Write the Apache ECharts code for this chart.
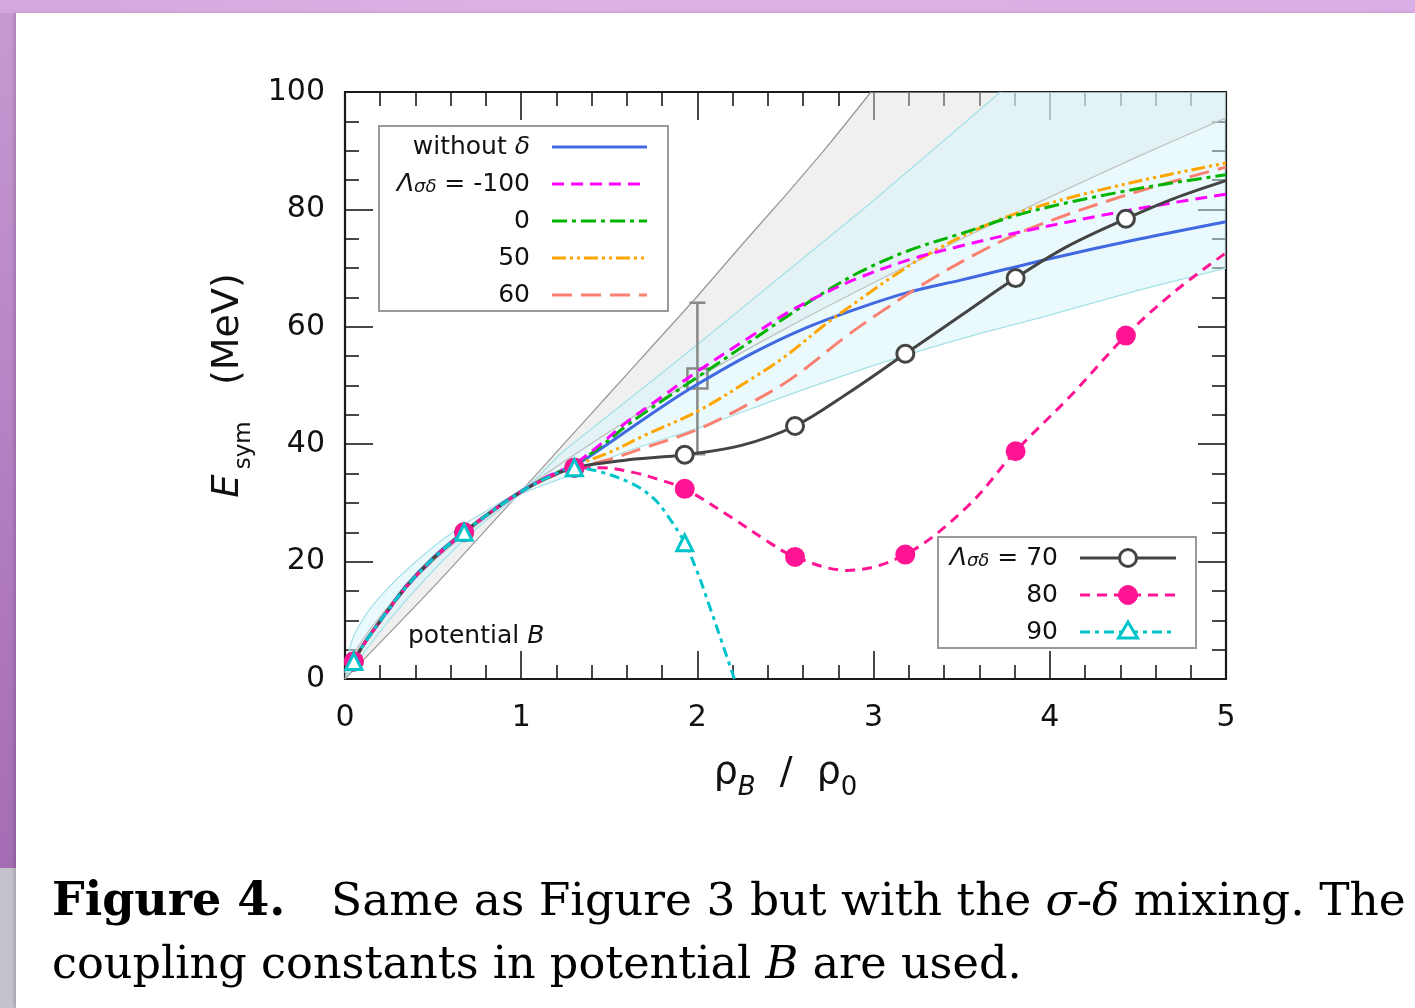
<!DOCTYPE html>
<html><head><meta charset="utf-8">
<script src="https://cdn.jsdelivr.net/npm/echarts@6/dist/echarts.min.js"></script>
<style>
html,body{margin:0;padding:0;background:#fff;}
#wrap{position:relative;width:1415px;height:1008px;overflow:hidden;}
.bg{position:absolute;}
#c{position:absolute;left:0;top:0;width:1415px;height:1008px;}
</style>
</head><body>
<div id="wrap">
  <div class="bg" style="left:0;top:0;width:1415px;height:13px;background:linear-gradient(to right,#d6a6de,#dcb2e6 40%,#d8aee4);"></div>
  <div class="bg" style="left:0;top:13px;width:16px;height:855px;background:linear-gradient(#c79ad2,#b27cc0 60%,#a56db3);"></div>
  <div class="bg" style="left:0;top:868px;width:16px;height:140px;background:#c4c2ca;"></div>
  <div class="bg" style="left:16px;top:13px;width:1399px;height:995px;background:#fff;box-shadow:-2px 0 3px rgba(0,0,0,0.15);"></div>
  <div id="c"></div>
</div>
<script>
// ---------------- data ----------------
const xTicks = [0, 1, 2, 3, 4, 5];
const yTicks = [0, 20, 40, 60, 80, 100];
const markerX = [0.05, 0.676, 1.302, 1.928, 2.554, 3.18, 3.806, 4.432];

const withoutDelta = [[0.05,3.0],[0.1,5.7],[0.2,10.0],[0.35,16.0],[0.5,20.7],[0.676,25.1],[0.85,29.0],[1.0,32.0],[1.15,34.4],[1.3,36.3],[1.45,39.2],[1.6,42.3],[1.8,46.4],[2.0,50.2],[2.3,55.3],[2.6,59.6],[2.9,63.0],[3.2,65.9],[3.5,68.0],[4.0,71.6],[4.5,74.9],[5.0,77.9]];
const lamM100 = [[0.05,3.0],[0.1,5.6],[0.2,9.8],[0.35,15.7],[0.5,20.4],[0.676,24.9],[0.85,28.9],[1.0,31.9],[1.15,34.5],[1.3,36.6],[1.45,40.0],[1.6,43.8],[1.8,48.1],[2.0,52.4],[2.3,58.3],[2.5,62.2],[2.7,65.4],[2.92,68.4],[3.2,71.4],[3.5,73.8],[3.87,76.4],[4.44,79.8],[5.0,82.6]];
const lam0 = [[0.05,3.0],[0.1,5.6],[0.2,9.9],[0.35,15.8],[0.5,20.5],[0.676,25.0],[0.85,28.9],[1.0,31.9],[1.15,34.5],[1.3,36.5],[1.45,39.6],[1.6,43.2],[1.8,47.4],[2.0,51.4],[2.3,57.5],[2.5,61.6],[2.7,65.5],[2.92,69.3],[3.2,73.0],[3.5,75.9],[3.87,79.5],[4.44,83.2],[5.0,85.9]];
const lam50 = [[0.05,3.0],[0.1,5.6],[0.2,9.9],[0.35,15.8],[0.5,20.5],[0.676,25.0],[0.85,28.9],[1.0,31.9],[1.15,34.3],[1.3,36.3],[1.5,38.6],[1.7,41.5],[2.0,45.6],[2.3,51.0],[2.5,55.0],[2.73,60.5],[2.92,64.6],[3.1,68.4],[3.3,72.2],[3.6,76.8],[3.9,80.2],[4.44,84.4],[5.0,87.9]];
const lam60 = [[0.05,3.0],[0.1,5.6],[0.2,9.9],[0.35,15.8],[0.5,20.5],[0.676,25.0],[0.85,28.9],[1.0,31.9],[1.15,34.2],[1.3,35.9],[1.5,37.4],[1.7,39.4],[2.0,42.5],[2.3,47.0],[2.54,51.3],[2.85,58.5],[3.04,62.5],[3.3,67.6],[3.6,72.7],[3.9,76.9],[4.44,82.5],[5.0,87.2]];
const lam70 = [[0.05,3.0],[0.1,5.6],[0.2,9.9],[0.35,15.8],[0.5,20.5],[0.676,25.0],[0.85,28.9],[1.0,31.9],[1.15,34.3],[1.302,36.0],[1.6,37.3],[1.928,38.2],[2.25,39.8],[2.554,43.1],[2.85,48.6],[3.18,55.4],[3.5,62.0],[3.806,68.3],[4.1,73.7],[4.432,78.4],[4.7,81.8],[5.0,84.9]];
const lam80 = [[0.05,3.0],[0.1,5.6],[0.2,9.9],[0.35,15.8],[0.5,20.5],[0.676,25.0],[0.85,28.9],[1.0,31.9],[1.15,34.3],[1.302,36.0],[1.45,36.0],[1.635,35.2],[1.79,33.9],[1.928,32.4],[2.2,27.4],[2.39,23.6],[2.554,20.8],[2.85,18.5],[3.18,21.2],[3.53,29.3],[3.806,38.8],[4.12,48.3],[4.432,58.5],[4.7,65.8],[5.0,72.6]];
const lam90 = [[0.05,3.0],[0.1,5.6],[0.2,9.9],[0.35,15.8],[0.5,20.5],[0.676,25.0],[0.85,28.9],[1.0,31.9],[1.15,34.3],[1.302,36.0],[1.447,35.3],[1.635,33.2],[1.75,30.8],[1.827,28.0],[1.928,23.2],[2.0,18.2],[2.07,12.3],[2.14,6.2],[2.21,0.0]];

// constraint bands (edges)
const grayBandEdgeA = [[0,0],[0.5,15.6],[1,32],[1.25,40.3],[1.5,48.6],[1.75,56.9],[2,65.2],[2.25,73.9],[2.5,82.4],[2.75,91.2],[2.985,100]];
const grayBandEdgeB = [[0,0],[0.05,4.2],[0.15,8.8],[0.3,14.1],[0.5,20],[0.7,25.1],[1,32],[1.5,42.1],[2,51.3],[2.5,59.7],[3,67.5],[3.5,75],[4,82.1],[4.5,89],[5,95.6]];
const cyanBandUpper = [[0,1],[0.02,4.5],[0.06,8],[0.15,12.3],[0.3,17.2],[0.5,22.5],[0.7,26.8],[0.9,30.4],[1,32.2],[1.1,34.6],[1.22,38.3],[1.5,45],[2,57],[2.45,68],[3,81.5],[3.72,100]];
const cyanBandLower = [[0,0.5],[0.05,1.8],[0.12,5],[0.25,10],[0.4,15.2],[0.6,21.5],[0.8,27],[1,31.5],[1.15,33.3],[1.3,35],[1.6,38.8],[2.03,43],[2.5,48.2],[3.04,53.8],[3.5,58],[4,62],[4.5,66.2],[5,70]];
const cornerTopRight = [[5,100]];

// data point with error bar
const errX = [2.0];
const errY = [51.2];
const errLow = [38.3];
const errHigh = [64.1];

// ---------------- chart ----------------
const chart = echarts.init(document.getElementById('c'), null, {renderer:'canvas'});
const FONT = 'DejaVu Sans';
const axisLine = {show:true, onZero:false, lineStyle:{color:'#1a1a1a', width:2.2}};
const tickLS = {color:'#1a1a1a', width:1.6};

function withMarkers(arr){
  return arr.map(p => markerX.indexOf(p[0]) >= 0 ? {value:p} : {value:p, symbol:'none', symbolSize:0});
}
function polygonSeries(upper, lower, fill){
  const poly = upper.concat(cornerTopRight, lower.slice().reverse());
  return {
    type:'custom', silent:true, z:1,
    renderItem:function(params, api){
      return {type:'polygon', shape:{points:poly.map(p => api.coord(p))}, style:{fill:fill, stroke:null}};
    },
    data:[[0,0]]
  };
}
function edge(arr, color, w){
  return {type:'line', data:arr, showSymbol:false, silent:true, z:1, smooth:0.2, lineStyle:{color:color, width:w}, emphasis:{disabled:true}};
}
function curve(arr, color, dash, w){
  return {type:'line', data:arr, showSymbol:false, smooth:0.35, silent:true, z:3,
    lineStyle:{color:color, width:w||3, type:dash||'solid'}, emphasis:{disabled:true}};
}
function markCurve(arr, color, dash, symbol, fill, size){
  return {type:'line', data:withMarkers(arr), showSymbol:true, showAllSymbol:true, smooth:0.35, silent:true, z:4,
    symbol:symbol, symbolSize:size, clip:true,
    lineStyle:{color:color, width:3, type:dash},
    itemStyle:{color:fill, borderColor:color, borderWidth:3},
    emphasis:{disabled:true}};
}

const xRich = {
  r:{fontSize:38, fontFamily:FONT, color:'#111', lineHeight:56},
  bi:{fontSize:26, fontFamily:FONT, fontStyle:'italic', color:'#111', lineHeight:40, verticalAlign:'bottom'},
  s:{fontSize:26, fontFamily:FONT, color:'#111', lineHeight:40, verticalAlign:'bottom'}
};
const yRich = {
  e:{fontSize:37, fontFamily:FONT, fontStyle:'italic', color:'#111', lineHeight:56},
  s:{fontSize:23, fontFamily:FONT, color:'#111', lineHeight:36, verticalAlign:'bottom', padding:[0,0,0,5]},
  r:{fontSize:38, fontFamily:FONT, color:'#111', lineHeight:56}
};

const option = {
  animation:false,
  backgroundColor:'transparent',
  grid:{left:345, right:189, top:92, bottom:329, containLabel:false, outerBoundsMode:'none'},
  xAxis:[
    {type:'value', position:'bottom', min:xTicks[0], max:xTicks[xTicks.length-1], interval:1,
     axisLine:axisLine, axisTick:{show:true, inside:true, length:28, lineStyle:tickLS},
     minorTick:{show:true, splitNumber:5, length:14, lineStyle:tickLS},
     splitLine:{show:false}, minorSplitLine:{show:false},
     axisLabel:{show:true, fontSize:30, fontFamily:FONT, color:'#111', margin:24, lineHeight:30},
     name:'{r|ρ}{bi|B}{r|  /  ρ}{s|0}', nameLocation:'middle', nameGap:66,
     nameTextStyle:{rich:xRich, fontSize:38, fontFamily:FONT, color:'#111'}},
    {type:'value', position:'top', min:xTicks[0], max:xTicks[xTicks.length-1], interval:1,
     axisLine:axisLine, axisTick:{show:true, inside:true, length:28, lineStyle:tickLS},
     minorTick:{show:true, splitNumber:5, length:14, lineStyle:tickLS},
     splitLine:{show:false}, axisLabel:{show:false}}
  ],
  yAxis:[
    {type:'value', position:'left', min:yTicks[0], max:yTicks[yTicks.length-1], interval:20,
     axisLine:axisLine, axisTick:{show:true, inside:true, length:28, lineStyle:tickLS},
     minorTick:{show:true, splitNumber:4, length:14, lineStyle:tickLS},
     splitLine:{show:false}, minorSplitLine:{show:false},
     axisLabel:{show:true, fontSize:30, fontFamily:FONT, color:'#111', margin:20},
     name:'{e|E}{s|sym}{r|   (MeV)}', nameLocation:'middle', nameGap:89, nameRotate:90,
     nameTextStyle:{rich:yRich, fontSize:38, fontFamily:FONT, color:'#111'}},
    {type:'value', position:'right', min:yTicks[0], max:yTicks[yTicks.length-1], interval:20,
     axisLine:axisLine, axisTick:{show:true, inside:true, length:28, lineStyle:tickLS},
     minorTick:{show:true, splitNumber:4, length:14, lineStyle:tickLS},
     splitLine:{show:false}, axisLabel:{show:false}}
  ],
  series:[
    polygonSeries(grayBandEdgeA, grayBandEdgeB, 'rgba(222,222,222,0.45)'),
    polygonSeries(cyanBandUpper, cyanBandLower, 'rgba(214,244,248,0.5)'),
    edge(grayBandEdgeA, '#9a9a9a', 1.3),
    edge(grayBandEdgeB, '#c2c2c2', 1.3),
    edge(cyanBandUpper, '#a6e2e8', 1.3),
    edge(cyanBandLower, '#a6e2e8', 1.3),
    {type:'custom', silent:true, z:2,
     data: errX.map((x,i) => [x, errY[i], errLow[i], errHigh[i]]),
     renderItem:function(params, api){
       const c = api.coord([api.value(0), api.value(1)]);
       const lo = api.coord([api.value(0), api.value(2)]);
       const hi = api.coord([api.value(0), api.value(3)]);
       const st = {stroke:'#888', lineWidth:2.5, fill:null};
       return {type:'group', children:[
         {type:'line', shape:{x1:lo[0], y1:lo[1], x2:hi[0], y2:hi[1]}, style:st},
         {type:'line', shape:{x1:lo[0]-8, y1:lo[1], x2:lo[0]+8, y2:lo[1]}, style:st},
         {type:'line', shape:{x1:hi[0]-8, y1:hi[1], x2:hi[0]+8, y2:hi[1]}, style:st},
         {type:'rect', shape:{x:c[0]-10, y:c[1]-10, width:20, height:20}, style:{stroke:'#888', lineWidth:2.5, fill:'transparent'}}
       ]};
     }},
    curve(withoutDelta, '#4169e1', 'solid'),
    curve(lam60, '#fa8072', [20,9]),
    curve(lam50, '#ffa500', [14,4,3,4,3,4]),
    curve(lam0, '#00b400', [15,5,4,5]),
    curve(lamM100, '#ff00ff', [12,7]),
    markCurve(lam70, '#444444', 'solid', 'circle', '#ffffff', 17),
    markCurve(lam80, '#ff1493', [10,7], 'circle', '#ff1493', 17),
    markCurve(lam90, '#00c4cc', [10,5,4,5], 'triangle', '#ffffff', 16)
  ],
  graphic:[]
};

// ---------- legends / annotations (graphic) ----------
const LF = '25px "DejaVu Sans"';
const legRich = {
  n:{fontSize:25, fontFamily:FONT, color:'#111'},
  i:{fontSize:25, fontFamily:FONT, fontStyle:'italic', color:'#111'},
  sub:{fontSize:18, fontFamily:FONT, fontStyle:'italic', color:'#111', lineHeight:14, verticalAlign:'bottom'}
};
function txt(x, y, text, align){
  return {type:'text', z:100, x:x, y:y, style:{text:text, align:align||'right', verticalAlign:'middle', font:LF, fill:'#111', rich:legRich}};
}
function sample(x1, x2, y, color, dash){
  return {type:'line', z:100, shape:{x1:x1, y1:y, x2:x2, y2:y}, style:{stroke:color, lineWidth:3, lineDash:dash||null}};
}
const G = [];
// legend 1
G.push({type:'rect', z:99, shape:{x:379, y:126, width:289, height:185}, style:{fill:'#fff', stroke:'#9a9a9a', lineWidth:2}});
const leg1 = [
  ['{n|without }{i|δ}', '#4169e1', null],
  ['{i|Λ}{sub|σδ}{n| = -100}', '#ff00ff', [12,7]],
  ['{n|0}', '#00b400', [15,5,4,5]],
  ['{n|50}', '#ffa500', [14,4,3,4,3,4]],
  ['{n|60}', '#fa8072', [20,9]]
];
const leg1Y = [147, 184, 221, 258, 295];
leg1.forEach((r, k) => { G.push(txt(530, leg1Y[k], r[0])); G.push(sample(552, 647, leg1Y[k], r[1], r[2])); });
// legend 2
G.push({type:'rect', z:99, shape:{x:938, y:537, width:258, height:111}, style:{fill:'#fff', stroke:'#9a9a9a', lineWidth:2}});
G.push(txt(1058, 558, '{i|Λ}{sub|σδ}{n| = 70}'));
G.push(sample(1080, 1176, 558, '#444444', null));
G.push({type:'circle', z:101, shape:{cx:1128, cy:558, r:8.5}, style:{fill:'#fff', stroke:'#444444', lineWidth:3}});
G.push(txt(1058, 595, '{n|80}'));
G.push(sample(1080, 1176, 595, '#ff1493', [10,7]));
G.push({type:'circle', z:101, shape:{cx:1128, cy:595, r:9.5}, style:{fill:'#ff1493', stroke:'#ff1493', lineWidth:1}});
G.push(txt(1058, 632, '{n|90}'));
G.push(sample(1080, 1176, 632, '#00c4cc', [10,5,4,5]));
G.push({type:'polygon', z:101, shape:{points:[[1128,622],[1137.5,638],[1118.5,638]]}, style:{fill:'#fff', stroke:'#00c4cc', lineWidth:3}});
// annotation
G.push(txt(408, 636, '{n|potential }{i|B}', 'left'));
// caption
const capRich = {
  b:{fontSize:46, fontFamily:'DejaVu Serif', fontWeight:'bold', color:'#111'},
  n:{fontSize:45.5, fontFamily:'DejaVu Serif', color:'#111'},
  i:{fontSize:45.5, fontFamily:'DejaVu Serif', fontStyle:'italic', color:'#111'},
  l:{fontSize:45.5, fontFamily:'DejaVu Serif', color:'#2b2b8c'},
  n2:{fontSize:44.6, fontFamily:'DejaVu Serif', color:'#111'},
  i2:{fontSize:44.6, fontFamily:'DejaVu Serif', fontStyle:'italic', color:'#111'}
};
G.push({type:'text', z:100, x:52, y:903, style:{text:'{b|Figure 4.}', align:'left', verticalAlign:'middle', rich:capRich}});
G.push({type:'text', z:100, x:331, y:903, style:{text:'{n|Same as Figure }{l|3}{n| but with the }{i|σ}{n|-}{i|δ}{n| mixing. The}', align:'left', verticalAlign:'middle', rich:capRich}});
G.push({type:'text', z:100, x:52, y:966, style:{text:'{n2|coupling constants in potential }{i2|B}{n2| are used.}', align:'left', verticalAlign:'middle', rich:capRich}});
option.graphic = G;

chart.setOption(option);
</script>
</body></html>
